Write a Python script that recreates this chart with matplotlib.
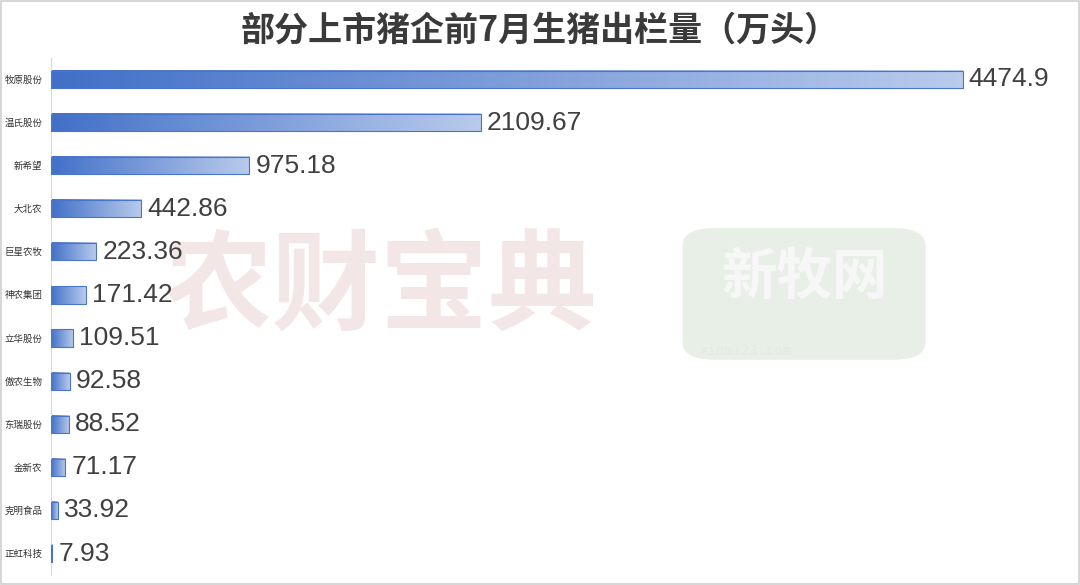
import numpy as np
import matplotlib.pyplot as plt
from matplotlib.colors import LinearSegmentedColormap
from matplotlib.patches import Rectangle, FancyBboxPatch

companies = ['牧原股份', '温氏股份', '新希望', '大北农', '巨星农牧', '神农集团',
             '立华股份', '傲农生物', '东瑞股份', '金新农', '克明食品', '正虹科技']
values = [4474.9, 2109.67, 975.18, 442.86, 223.36, 171.42,
          109.51, 92.58, 88.52, 71.17, 33.92, 7.93]
labels = ['4474.9', '2109.67', '975.18', '442.86', '223.36', '171.42',
          '109.51', '92.58', '88.52', '71.17', '33.92', '7.93']

plt.rcParams['font.family'] = ['Noto Sans CJK SC', 'DejaVu Sans']

fig = plt.figure(figsize=(10.8, 5.85), dpi=100)
fig.patch.set_facecolor('white')
fig.patches.append(Rectangle((0.001, 0.002), 0.998, 0.996, transform=fig.transFigure,
                             fill=False, edgecolor='#d0d0d0', lw=1.2))

# watermarks (behind the axes)
fig.text(0.352, 0.505, '农财宝典', fontsize=78, fontweight='black', color='#f3e6e6',
         ha='center', va='center', zorder=-2)
fig.patches.append(FancyBboxPatch((0.632, 0.385), 0.225, 0.225, transform=fig.transFigure,
                                  boxstyle='round,pad=0.0,rounding_size=0.03',
                                  facecolor='#e7efe6', edgecolor='none', zorder=-3))
fig.text(0.745, 0.525, '新牧网', fontsize=40, fontweight='bold', color='#f7f7f7',
         ha='center', va='center', zorder=-2)
fig.text(0.69, 0.4, 'xinm123.com', fontsize=10, color='#e4e9e4',
         ha='center', va='center', zorder=-2, family='DejaVu Sans Mono')

ax = fig.add_axes([0.047, 0.017, 0.935, 0.884])
ax.set_zorder(2)
ax.patch.set_alpha(0)

cmap = LinearSegmentedColormap.from_list('bar', ['#4270c8', '#b9cbec'])
grad = np.linspace(0, 1, 256).reshape(1, -1)

n = len(values)
h = 0.4
for i, (v, lab) in enumerate(zip(values, labels)):
    y = i
    ax.imshow(grad, cmap=cmap, aspect='auto', extent=(0, v, y + h / 2, y - h / 2),
              zorder=2, interpolation='bicubic')
    ax.add_patch(Rectangle((0, y - h / 2), v, h, fill=False, edgecolor='#4a74c9',
                           lw=0.8, zorder=3))
    ax.text(v + 30, y, lab, va='center', ha='left', fontsize=19, color='#404040',
            family=['Liberation Sans', 'DejaVu Sans'])

ax.set_xlim(0, 4474.9 * 1010 / 912)
ax.set_ylim(n - 0.5, -0.5)
ax.set_yticks(range(n))
ax.set_yticklabels(companies, fontsize=6.8, color='#333333')
ax.set_xticks([])
ax.tick_params(axis='y', length=0, pad=6)
for s in ['top', 'right', 'bottom']:
    ax.spines[s].set_visible(False)
ax.spines['left'].set_color('#d9d9d9')

fig.text(0.5, 0.948, '部分上市猪企前7月生猪出栏量（万头）', ha='center', va='center',
         fontsize=24.5, color='#3a3a3a', fontweight='semibold')

fig.savefig('out.png', dpi=100)
